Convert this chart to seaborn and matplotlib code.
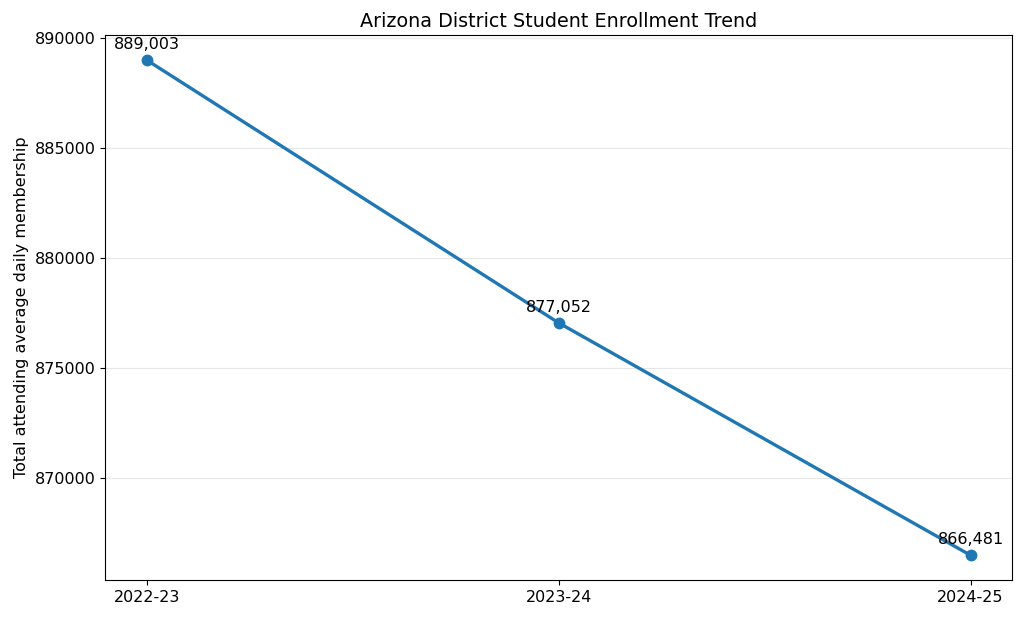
import matplotlib
matplotlib.use("Agg")
import pandas as pd
import matplotlib.pyplot as plt
import seaborn as sns

# Data
years = ["2022-23", "2023-24", "2024-25"]
enrollment = [889003, 877052, 866481]

df = pd.DataFrame({"year": years, "enrollment": enrollment})

fig, ax = plt.subplots(figsize=(10.24, 6.19), dpi=100)
sns.lineplot(data=df, x="year", y="enrollment", marker="o", markersize=8.5,
             linewidth=2.4, color="#1f77b4", markeredgewidth=0, ax=ax)

# Value labels above each point
for x, y in zip(df["year"], df["enrollment"]):
    ax.annotate(f"{y:,}", (x, y), textcoords="offset points", xytext=(0, 8),
                ha="center", fontsize=11.5)

ax.set_title("Arizona District Student Enrollment Trend", fontsize=13.8)
ax.set_xlabel("")
ax.set_ylabel("Total attending average daily membership", fontsize=11.5)
ax.ticklabel_format(axis="y", style="plain", useOffset=False)
ax.tick_params(labelsize=11.5)
ax.grid(axis="y", alpha=0.3)
ax.set_axisbelow(True)

fig.subplots_adjust(left=0.103, right=0.988, top=0.943, bottom=0.063)
fig.savefig("out.png", dpi=100)
